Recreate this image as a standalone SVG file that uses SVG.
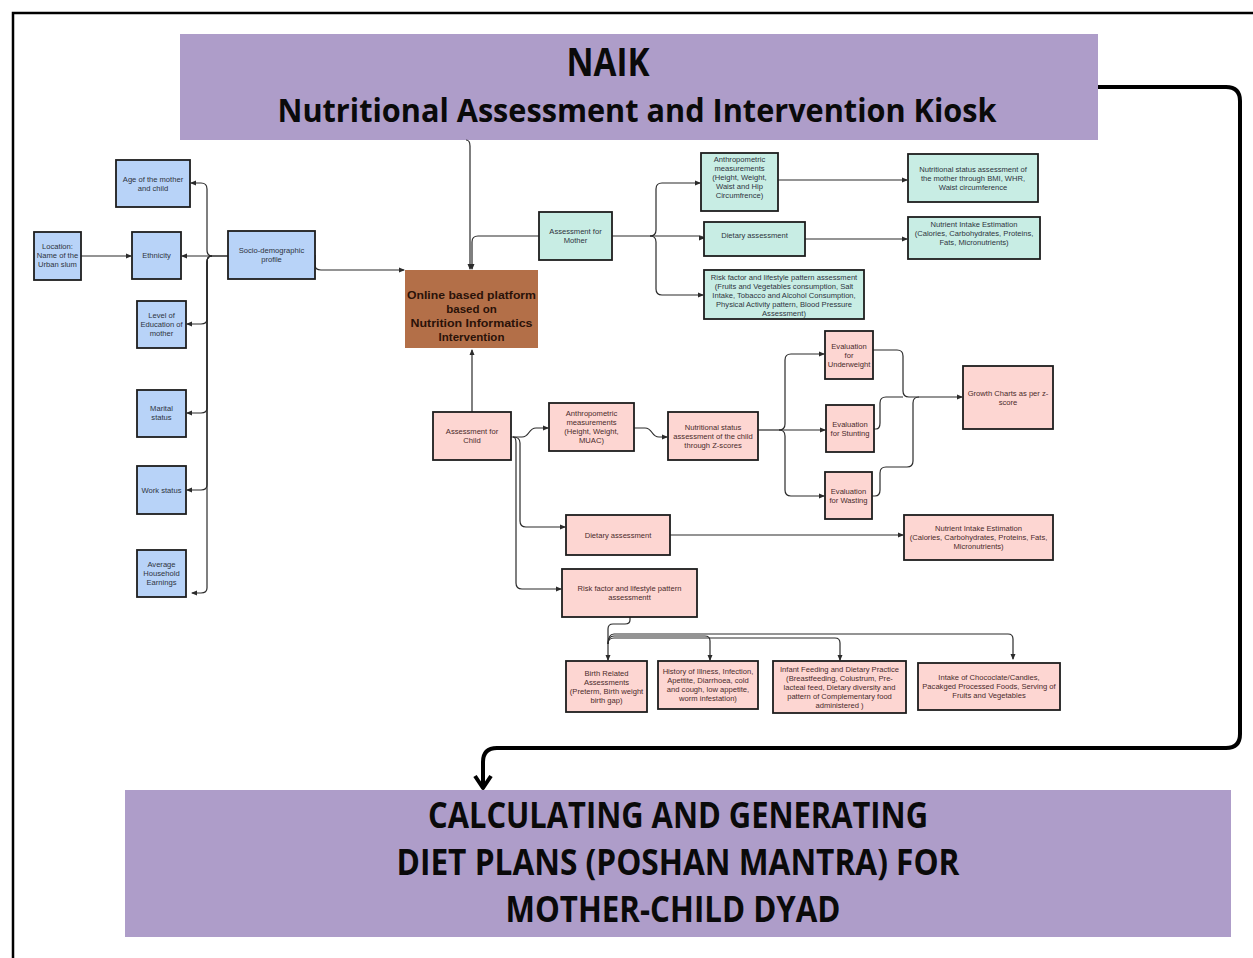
<svg xmlns="http://www.w3.org/2000/svg" width="1253" height="958" viewBox="0 0 1253 958">
<defs>
<marker id="ah" markerWidth="6" markerHeight="6" refX="5" refY="3" orient="auto" markerUnits="userSpaceOnUse"><path d="M0,0.5 L6,3 L0,5.5 z" fill="#2b2b2b"/></marker>
<style>
.t{font-family:"Liberation Sans",Arial,sans-serif;font-size:7.6px;text-anchor:middle;fill:#2e3440}
.tp{font-family:"Liberation Sans",Arial,sans-serif;font-size:7.6px;text-anchor:middle;fill:#4a2b2b}
.blue{fill:#b8d3f8;stroke:#1d1d1d;stroke-width:1.8}
.teal{fill:#c8ede4;stroke:#1d1d1d;stroke-width:1.8}
.pink{fill:#fdd6d2;stroke:#1d1d1d;stroke-width:1.8}
.big{font-family:"Open Sans","Liberation Sans",sans-serif;font-weight:bold;text-anchor:middle;fill:#0a0a0a}
.pt{font-family:"Liberation Sans",Arial,sans-serif;font-weight:bold;font-size:11.5px;text-anchor:middle;fill:#2a1208}
.c{fill:none;stroke:#2b2b2b;stroke-width:1.2;marker-end:url(#ah)}
.cn{fill:none;stroke:#2b2b2b;stroke-width:1.2}
</style>
</defs>
<rect width="1253" height="958" fill="#ffffff"/>
<path d="M13,958 V13 H1253" fill="none" stroke="#000" stroke-width="2.5"/>

<g id="title">
<rect x="180" y="34" width="918" height="106" fill="#ae9dc9"/>
<text class="big" x="608" y="76" font-size="40" textLength="83" lengthAdjust="spacingAndGlyphs">NAIK</text>
<text class="big" x="637" y="122" font-size="32" textLength="719" lengthAdjust="spacingAndGlyphs">Nutritional Assessment and Intervention Kiosk</text>
</g>

<g id="diet-plans">
<rect x="125" y="790" width="1106" height="147" fill="#ae9dc9"/>
<text class="big" x="678" y="828" font-size="36" textLength="500" lengthAdjust="spacingAndGlyphs">CALCULATING AND GENERATING</text>
<text class="big" x="678" y="875" font-size="36" textLength="563" lengthAdjust="spacingAndGlyphs">DIET PLANS (POSHAN MANTRA) FOR</text>
<text class="big" x="673" y="922" font-size="36" textLength="335" lengthAdjust="spacingAndGlyphs">MOTHER-CHILD DYAD</text>
</g>

<g id="connectors">
<path d="M1098,87 H1226 Q1240,87 1240,101 V734 Q1240,748 1226,748 H497 Q483,748 483,762 V787" fill="none" stroke="#000" stroke-width="4"/>
<path d="M475,776 L483,788 L491,776" fill="none" stroke="#000" stroke-width="4" stroke-linejoin="round"/>

<path class="c" d="M228,256 H212 Q207,256 207,250 V189 Q207,183 201,183 H191"/>
<path class="c" d="M228,256 H182"/>
<path class="c" d="M212,256 Q207,256 207,262 V319 Q207,324 201,324 H187"/>
<path class="c" d="M212,256 Q207,256 207,262 V408 Q207,413 201,413 H187"/>
<path class="c" d="M212,256 Q207,256 207,262 V485 Q207,490 201,490 H187"/>
<path class="c" d="M212,256 Q207,256 207,262 V588 Q207,593 201,593 H192"/>
<path class="c" d="M81,256 H131"/>
<path class="c" d="M315,255 V265 Q315,270 321,270 H404"/>

<path class="c" d="M466,140 Q470,140 470,146 V269"/>
<path class="c" d="M539,236 H478 Q472,236 472,242 V269"/>

<path class="cn" d="M612,236 H650"/>
<path class="c" d="M650,236 Q656,236 656,230 V189 Q656,183 662,183 H700"/>
<path class="c" d="M650,236 H699 Q703,236 703,238 H704"/>
<path class="c" d="M650,236 Q656,236 656,242 V289 Q656,295 662,295 H703"/>
<path class="c" d="M778,180 H907"/>
<path class="c" d="M805,239 H907"/>

<path class="c" d="M472,412 V350"/>
<path class="c" d="M511,437 H522 C530,437 528,428 536,428 H548"/>
<path class="c" d="M634,428 H645 C653,428 651,437 659,437 H667"/>
<path class="cn" d="M758,430 H779"/>
<path class="c" d="M779,430 Q785,430 785,424 V360 Q785,354 791,354 H824"/>
<path class="c" d="M779,430 H825"/>
<path class="c" d="M779,430 Q785,430 785,436 V490 Q785,496 791,496 H824"/>
<path class="c" d="M873,350 H897 Q903,350 903,356 V391 Q903,397 909,397 H962"/>
<path class="cn" d="M874,429 H876 Q880,429 880,423 V403 Q880,397 886,397 H903"/>
<path class="cn" d="M872,496 H875 Q880,496 880,490 V473 Q880,467 886,467 H907 Q913,467 913,461 V403 Q913,397 919,397"/>

<path class="c" d="M513,437 Q520,437 520,443 V521 Q520,527 526,527 H565"/>
<path class="c" d="M513,437 Q516,437 516,443 V583 Q516,589 522,589 H561"/>
<path class="c" d="M670,535 H903"/>

<path class="c" d="M630,617 V620 Q630,624 625,624 H613 Q608,624 608,629 V660"/>
<path class="c" d="M608,644 Q608,636 614,636 H705 Q710,636 710,641 V660"/>
<path class="c" d="M608,644 Q608,638 614,638 H835 Q840,638 840,643 V660"/>
<path class="c" d="M608,644 Q608,634 614,634 H1008 Q1013,634 1013,639 V659"/>
</g>

<g id="age"><rect class="blue" x="116" y="160" width="74" height="47"/><text class="t" x="153" y="182">Age of the mother</text><text class="t" x="153" y="191">and child</text></g>
<g id="location"><rect class="blue" x="34" y="232" width="47" height="48"/><text class="t" x="57.5" y="249">Location:</text><text class="t" x="57.5" y="258">Name of the</text><text class="t" x="57.5" y="267">Urban slum</text></g>
<g id="ethnicity"><rect class="blue" x="132" y="232" width="49" height="47"/><text class="t" x="156.5" y="258">Ethnicity</text></g>
<g id="socio"><rect class="blue" x="228" y="231" width="87" height="48"/><text class="t" x="271.5" y="253">Socio-demographic</text><text class="t" x="271.5" y="262">profile</text></g>
<g id="education"><rect class="blue" x="137" y="301" width="49" height="47"/><text class="t" x="161.5" y="318">Level of</text><text class="t" x="161.5" y="327">Education of</text><text class="t" x="161.5" y="336">mother</text></g>
<g id="marital"><rect class="blue" x="137" y="390" width="49" height="47"/><text class="t" x="161.5" y="411">Marital</text><text class="t" x="161.5" y="420">status</text></g>
<g id="work"><rect class="blue" x="137" y="466" width="49" height="48"/><text class="t" x="161.5" y="493">Work status</text></g>
<g id="earnings"><rect class="blue" x="137" y="550" width="49" height="47"/><text class="t" x="161.5" y="567">Average</text><text class="t" x="161.5" y="576">Household</text><text class="t" x="161.5" y="585">Earnings</text></g>

<g id="platform"><rect x="405" y="270" width="133" height="78" fill="#b36f48"/>
<text class="pt" x="471.5" y="299" textLength="129" lengthAdjust="spacingAndGlyphs">Online based platform</text>
<text class="pt" x="471.5" y="313">based on</text>
<text class="pt" x="471.5" y="327" textLength="122" lengthAdjust="spacingAndGlyphs">Nutrition Informatics</text>
<text class="pt" x="471.5" y="341">Intervention</text></g>

<g id="mother"><rect class="teal" x="539" y="212" width="73" height="48"/><text class="t" x="575.5" y="234">Assessment for</text><text class="t" x="575.5" y="243">Mother</text></g>
<g id="m-anthro"><rect class="teal" x="701" y="153" width="77" height="58"/><text class="t" x="739.5" y="162">Anthropometric</text><text class="t" x="739.5" y="171">measurements</text><text class="t" x="739.5" y="180">(Height, Weight,</text><text class="t" x="739.5" y="189">Waist and Hip</text><text class="t" x="739.5" y="198">Circumfrence)</text></g>
<g id="m-nutstatus"><rect class="teal" x="908" y="154" width="130" height="48"/><text class="t" x="973" y="172">Nutritional status assessment of</text><text class="t" x="973" y="181">the mother through BMI, WHR,</text><text class="t" x="973" y="190">Waist circumference</text></g>
<g id="m-diet"><rect class="teal" x="704" y="222" width="101" height="34"/><text class="t" x="754.5" y="238">Dietary assessment</text></g>
<g id="m-nutrient"><rect class="teal" x="908" y="217" width="132" height="42"/><text class="t" x="974" y="227">Nutrient Intake Estimation</text><text class="t" x="974" y="236">(Calories, Carbohydrates, Proteins,</text><text class="t" x="974" y="245">Fats, Micronutrients)</text></g>
<g id="m-risk"><rect class="teal" x="704" y="270" width="160" height="49"/><text class="t" x="784" y="280">Risk factor and lifestyle pattern assessment</text><text class="t" x="784" y="289">(Fruits and Vegetables consumption, Salt</text><text class="t" x="784" y="298">Intake, Tobacco and Alcohol Consumption,</text><text class="t" x="784" y="307">Physical Activity pattern, Blood Pressure</text><text class="t" x="784" y="316">Assessment)</text></g>

<g id="child"><rect class="pink" x="433" y="412" width="78" height="48"/><text class="tp" x="472" y="434">Assessment for</text><text class="tp" x="472" y="443">Child</text></g>
<g id="c-anthro"><rect class="pink" x="549" y="403" width="85" height="48"/><text class="tp" x="591.5" y="416">Anthropometric</text><text class="tp" x="591.5" y="425">measurements</text><text class="tp" x="591.5" y="434">(Height, Weight,</text><text class="tp" x="591.5" y="443">MUAC)</text></g>
<g id="c-nutstatus"><rect class="pink" x="668" y="412" width="90" height="48"/><text class="tp" x="713" y="430">Nutritional status</text><text class="tp" x="713" y="439">assessment of the child</text><text class="tp" x="713" y="448">through Z-scores</text></g>
<g id="underweight"><rect class="pink" x="825" y="331" width="48" height="48"/><text class="tp" x="849" y="349">Evaluation</text><text class="tp" x="849" y="358">for</text><text class="tp" x="849" y="367">Underweight</text></g>
<g id="stunting"><rect class="pink" x="826" y="405" width="48" height="47"/><text class="tp" x="850" y="427">Evaluation</text><text class="tp" x="850" y="436">for Stunting</text></g>
<g id="wasting"><rect class="pink" x="825" y="472" width="47" height="47"/><text class="tp" x="848.5" y="494">Evaluation</text><text class="tp" x="848.5" y="503">for Wasting</text></g>
<g id="growth"><rect class="pink" x="963" y="366" width="90" height="63"/><text class="tp" x="1008" y="396">Growth Charts as per z-</text><text class="tp" x="1008" y="405">score</text></g>
<g id="c-diet"><rect class="pink" x="566" y="515" width="104" height="40"/><text class="tp" x="618" y="538">Dietary assessment</text></g>
<g id="c-nutrient"><rect class="pink" x="904" y="515" width="149" height="45"/><text class="tp" x="978.5" y="531">Nutrient Intake Estimation</text><text class="tp" x="978.5" y="540">(Calories, Carbohydrates, Proteins, Fats,</text><text class="tp" x="978.5" y="549">Micronutrients)</text></g>
<g id="c-risk"><rect class="pink" x="562" y="569" width="135" height="48"/><text class="tp" x="629.5" y="591">Risk factor and lifestyle pattern</text><text class="tp" x="629.5" y="600">assessmentt</text></g>
<g id="birth"><rect class="pink" x="566" y="661" width="81" height="51"/><text class="tp" x="606.5" y="676">Birth Related</text><text class="tp" x="606.5" y="685">Assessments</text><text class="tp" x="606.5" y="694">(Preterm, Birth weight</text><text class="tp" x="606.5" y="703">birth gap)</text></g>
<g id="illness"><rect class="pink" x="658" y="661" width="100" height="48"/><text class="tp" x="708" y="674">History of Illness, Infection,</text><text class="tp" x="708" y="683">Apettite, Diarrhoea, cold</text><text class="tp" x="708" y="692">and cough, low appetite,</text><text class="tp" x="708" y="701">worm infestation)</text></g>
<g id="infant"><rect class="pink" x="773" y="661" width="133" height="52"/><text class="tp" x="839.5" y="672">Infant Feeding and Dietary Practice</text><text class="tp" x="839.5" y="681">(Breastfeeding, Colustrum, Pre-</text><text class="tp" x="839.5" y="690">lacteal feed, Dietary diversity and</text><text class="tp" x="839.5" y="699">pattern of  Complementary food</text><text class="tp" x="839.5" y="708">administered )</text></g>
<g id="intake"><rect class="pink" x="918" y="663" width="142" height="47"/><text class="tp" x="989" y="680">Intake of Chococlate/Candies,</text><text class="tp" x="989" y="689">Pacakged Processed Foods, Serving of</text><text class="tp" x="989" y="698">Fruits and Vegetables</text></g>
</svg>
